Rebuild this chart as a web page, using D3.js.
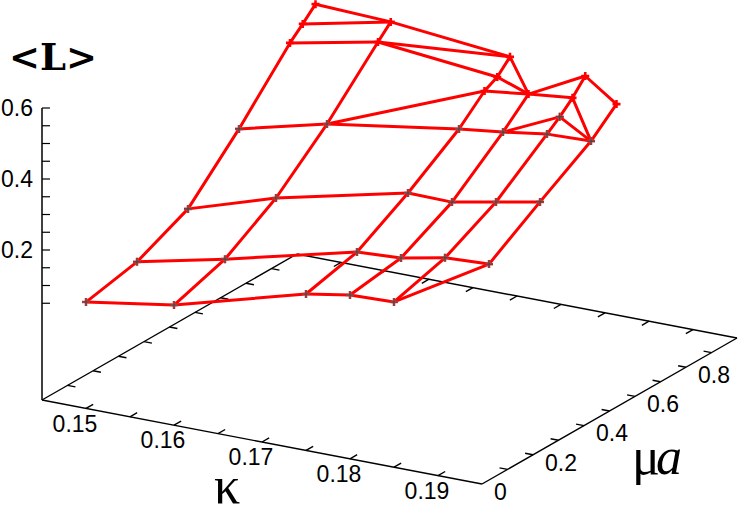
<!DOCTYPE html>
<html><head><meta charset="utf-8">
<style>html,body{margin:0;padding:0;background:#fff;overflow:hidden}svg{display:block}</style>
<script src="https://cdn.jsdelivr.net/npm/d3@7/dist/d3.min.js"></script>
</head><body><svg id="c" width="748" height="517"></svg>
<script>
// Tick values
const kappaTicks=[0.15,0.155,0.16,0.165,0.17,0.175,0.18,0.185,0.19];
const kappaLabels=[0.15,0.16,0.17,0.18,0.19];
const muTicks=[0.1,0.2,0.3,0.4,0.5,0.6,0.7,0.8,0.9];
const muLabels=[0,0.2,0.4,0.6,0.8];
const zTicks=[0.05,0.1,0.15,0.2,0.25,0.3,0.35,0.4,0.45,0.5,0.55,0.6];
const zLabels=[0.2,0.4,0.6];
// Surface data: one mu / L pair per kappa
const kappas=[0.15,0.16,0.175,0.18,0.185,0.19];
const mu150=[0,0.2,0.4,0.6,0.8,0.85,0.9];
const L150=[0.077,0.108,0.175,0.318,0.478,0.511,0.546];
const mu160=[0,0.2,0.4,0.6,0.8,0.85];
const L160=[0.116,0.163,0.253,0.379,0.528,0.564];
const mu175=[0,0.2,0.4,0.6,0.7,0.75,0.8];
const L175=[0.218,0.254,0.338,0.436,0.502,0.521,0.557];
const mu180=[0,0.2,0.4,0.6,0.7];
const L180=[0.239,0.261,0.336,0.451,0.517];
const mu185=[0,0.2,0.4,0.6,0.65,0.7,0.75];
const L185=[0.243,0.285,0.360,0.469,0.497,0.530,0.571];
const mu190=[0.2,0.4,0.6,0.7];
const L190=[0.291,0.384,0.473,0.536];
const muByKappa=[mu150,mu160,mu175,mu180,mu185,mu190];
const LByKappa=[L150,L160,L175,L180,L185,L190];
// Mesh links across kappa columns: [kappa, mu, kappa, mu]
const links=[
[0.15,0,0.16,0],[0.16,0,0.175,0],[0.175,0,0.18,0],[0.18,0,0.185,0],[0.185,0,0.19,0.2],
[0.15,0.2,0.16,0.2],[0.16,0.2,0.175,0.2],[0.175,0.2,0.18,0.2],[0.18,0.2,0.185,0.2],[0.185,0.2,0.19,0.2],
[0.15,0.4,0.16,0.4],[0.16,0.4,0.175,0.4],[0.175,0.4,0.18,0.4],[0.18,0.4,0.185,0.4],[0.185,0.4,0.19,0.4],
[0.15,0.6,0.16,0.6],[0.16,0.6,0.175,0.6],[0.175,0.6,0.18,0.6],[0.18,0.6,0.185,0.6],[0.185,0.6,0.19,0.6],
[0.16,0.6,0.175,0.7],[0.175,0.7,0.18,0.7],[0.18,0.7,0.185,0.7],
[0.18,0.7,0.185,0.75],[0.185,0.75,0.19,0.7],[0.185,0.7,0.19,0.6],[0.185,0.65,0.19,0.6],[0.18,0.6,0.185,0.65],
[0.175,0.75,0.18,0.7],[0.175,0.8,0.18,0.7],
[0.15,0.8,0.16,0.8],[0.16,0.8,0.175,0.8],[0.16,0.8,0.175,0.75],
[0.15,0.85,0.16,0.85],[0.16,0.85,0.175,0.8],[0.15,0.9,0.16,0.85]];

const kDomain=[0.145,0.195], muDomain=[0,1], zDomain=[-0.2225,0.6];
const ox=42, oy=400;
const kX=d3.scaleLinear().domain(kDomain).range([0,440]);
const kY=d3.scaleLinear().domain(kDomain).range([0,84]);
const mX=d3.scaleLinear().domain(muDomain).range([0,255]);
const mY=d3.scaleLinear().domain(muDomain).range([0,-146]);
const zY=d3.scaleLinear().domain(zDomain).range([0,-292]);
const px=(k,m)=>ox+kX(k)+mX(m);
const py=(k,m,z)=>oy+kY(k)+mY(m)+zY(z===undefined?zDomain[0]:z);
const lookup=new Map();
kappas.forEach((k,i)=>muByKappa[i].forEach((m,j)=>lookup.set(k+"|"+m,LByKappa[i][j])));
const svg=d3.select("#c");
const [k0,k1]=kDomain,[m0,m1]=muDomain;
const frame=svg.append("g").attr("fill","none").attr("stroke","#000").attr("stroke-width",1.4);
const seg=(x1,y1,x2,y2,w)=>frame.append("line").attr("x1",x1).attr("y1",y1).attr("x2",x2).attr("y2",y2).attr("stroke-width",w||1.4);
// floor edges
seg(px(k0,m0),py(k0,m0),px(k1,m0),py(k1,m0));
seg(px(k1,m0),py(k1,m0),px(k1,m1),py(k1,m1));
seg(px(k1,m1),py(k1,m1),px(k0,m1),py(k0,m1));
seg(px(k0,m1),py(k0,m1),px(k0,m0),py(k0,m0));
// floor ticks
kappaTicks.forEach(k=>{
 seg(px(k,m0),py(k,m0),px(k,m0+0.028),py(k,m0+0.028));
 seg(px(k,m1),py(k,m1),px(k,m1-0.028),py(k,m1-0.028));
});
muTicks.forEach(m=>{
 seg(px(k1,m),py(k1,m),px(k1-0.0009,m),py(k1-0.0009,m));
 seg(px(k0,m),py(k0,m),px(k0+0.0009,m),py(k0+0.0009,m));
});
// vertical axis
const zx=px(k0,m0);
seg(zx,py(k0,m0),zx,py(k0,m0,0.6),1.5);
zTicks.forEach(z=>seg(zx,py(k0,m0,z),zx+8,py(k0,m0,z),1.2));
const tf='"Liberation Sans",Arial,sans-serif';
const lab=svg.append("g").attr("font-family",tf).attr("font-size",23).attr("fill","#000");
zLabels.forEach(z=>lab.append("text").attr("x",zx-9).attr("y",py(k0,m0,z)).attr("dy","0.36em").attr("text-anchor","end").text(d3.format(".1f")(z)));
kappaLabels.forEach(k=>lab.append("text").attr("x",px(k,m0)-11).attr("y",py(k,m0)+15).attr("dy","0.36em").attr("text-anchor","middle").text(d3.format(".2f")(k)));
muLabels.forEach(m=>lab.append("text").attr("x",px(k1,m)+12).attr("y",py(k1,m)+7.5).attr("dy","0.36em").text(m===0?"0":d3.format(".1f")(m)));
// axis titles
svg.append("text").attr("x",9).attr("y",70).attr("font-family",'"DejaVu Serif",serif').attr("font-weight","bold").attr("font-size",37).attr("fill","#000").text("<L>");
svg.append("text").attr("x",214).attr("y",503).attr("font-family",'"Liberation Serif",serif').attr("font-size",52).attr("fill","#000").text("κ");
const mt=svg.append("text").attr("x",632).attr("y",474).attr("font-family",'"Liberation Serif",serif').attr("font-size",52).attr("fill","#000");
mt.append("tspan").text("μ");
mt.append("tspan").attr("font-style","italic").attr("dx",-4).text("a");
// mesh
const mesh=svg.append("g").attr("fill","none").attr("stroke","#f00").attr("stroke-width",3).attr("stroke-linejoin","round").attr("stroke-linecap","round");
const line=d3.line().x(d=>px(d[0],d[1])).y(d=>py(d[0],d[1],d[2]));
// markers
const marks=svg.append("g").attr("fill","none");
kappas.forEach((k,i)=>{
 const pts=muByKappa[i].map((m,j)=>[k,m,LByKappa[i][j]]);
 mesh.append("path").attr("d",line(pts));
 pts.forEach(p=>{
  const x=px(p[0],p[1]),y=py(p[0],p[1],p[2]);
  const d=`M${x-4},${y}H${x+4}M${x},${y-4}V${y+4}`;
  const top=p[1]>=0.7;
  marks.append("path").attr("d",d).attr("stroke",top?"#f00":"#d44").attr("stroke-width",2.6);
  if(!top) marks.append("path").attr("d",d).attr("stroke","#444").attr("stroke-width",1.1);
 });
});
links.forEach(l=>mesh.append("path").attr("d",line([[l[0],l[1],lookup.get(l[0]+"|"+l[1])],[l[2],l[3],lookup.get(l[2]+"|"+l[3])]])));
</script></body></html>
